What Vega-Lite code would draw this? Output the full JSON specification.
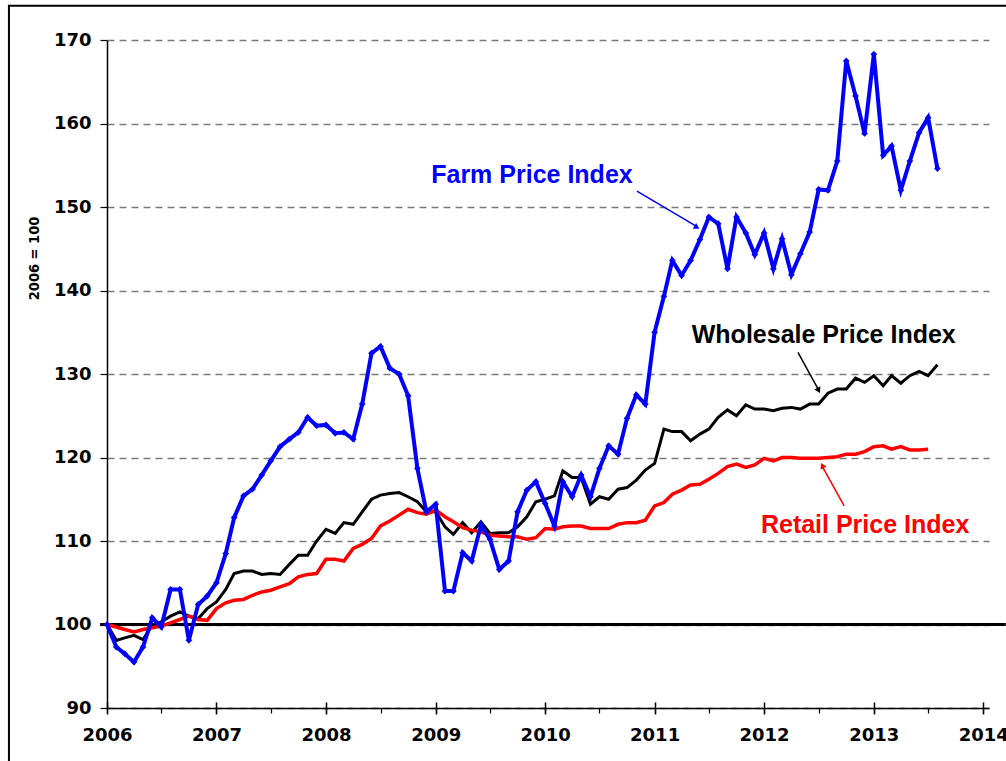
{
  "$schema": "https://vega.github.io/schema/vega-lite/v6.json",
  "width": 882,
  "height": 668,
  "autosize": {"type": "none"},
  "padding": {"left": 107, "top": 40, "right": 17, "bottom": 53},
  "background": "white",
  "config": {
    "view": {"stroke": null},
    "axisY": {
      "tickCount": 8,
      "grid": true, "gridDash": [7, 5], "gridColor": "#7a7a7a", "gridWidth": 1.3,
      "tickSize": 7, "tickColor": "black", "tickWidth": 1.2,
      "domainColor": "black", "domainWidth": 1.5,
      "labelFont": "DejaVu Sans", "labelFontSize": 18, "labelFontWeight": "bold", "labelColor": "black",
      "labelPadding": 9
    }
  },
  "data": {"values": [
    {"date": "2006-01-01", "farm": 100.0, "wholesale": 100.0, "retail": 100.0},
    {"date": "2006-02-01", "farm": 97.3, "wholesale": 98.1, "retail": 99.7},
    {"date": "2006-03-01", "farm": 96.5, "wholesale": 98.4, "retail": 99.4},
    {"date": "2006-04-01", "farm": 95.5, "wholesale": 98.7, "retail": 99.1},
    {"date": "2006-05-01", "farm": 97.3, "wholesale": 98.2, "retail": 99.4},
    {"date": "2006-06-01", "farm": 100.8, "wholesale": 99.9, "retail": 99.6},
    {"date": "2006-07-01", "farm": 99.7, "wholesale": 100.3, "retail": 99.8},
    {"date": "2006-08-01", "farm": 104.2, "wholesale": 101.0, "retail": 100.2},
    {"date": "2006-09-01", "farm": 104.2, "wholesale": 101.5, "retail": 100.6},
    {"date": "2006-10-01", "farm": 98.1, "wholesale": 101.0, "retail": 101.0},
    {"date": "2006-11-01", "farm": 102.4, "wholesale": 100.7, "retail": 100.6},
    {"date": "2006-12-01", "farm": 103.4, "wholesale": 101.9, "retail": 100.5},
    {"date": "2007-01-01", "farm": 105.0, "wholesale": 102.7, "retail": 101.9},
    {"date": "2007-02-01", "farm": 108.5, "wholesale": 104.2, "retail": 102.6},
    {"date": "2007-03-01", "farm": 112.8, "wholesale": 106.1, "retail": 102.9},
    {"date": "2007-04-01", "farm": 115.4, "wholesale": 106.4, "retail": 103.0},
    {"date": "2007-05-01", "farm": 116.2, "wholesale": 106.4, "retail": 103.5},
    {"date": "2007-06-01", "farm": 117.9, "wholesale": 106.0, "retail": 103.9},
    {"date": "2007-07-01", "farm": 119.6, "wholesale": 106.1, "retail": 104.1},
    {"date": "2007-08-01", "farm": 121.3, "wholesale": 106.0, "retail": 104.5},
    {"date": "2007-09-01", "farm": 122.2, "wholesale": 107.2, "retail": 104.9},
    {"date": "2007-10-01", "farm": 123.0, "wholesale": 108.3, "retail": 105.7},
    {"date": "2007-11-01", "farm": 124.8, "wholesale": 108.3, "retail": 106.0},
    {"date": "2007-12-01", "farm": 123.8, "wholesale": 110.0, "retail": 106.1},
    {"date": "2008-01-01", "farm": 123.9, "wholesale": 111.4, "retail": 107.8},
    {"date": "2008-02-01", "farm": 122.9, "wholesale": 110.9, "retail": 107.8},
    {"date": "2008-03-01", "farm": 123.0, "wholesale": 112.2, "retail": 107.6},
    {"date": "2008-04-01", "farm": 122.2, "wholesale": 112.0, "retail": 109.1},
    {"date": "2008-05-01", "farm": 126.4, "wholesale": 113.5, "retail": 109.6},
    {"date": "2008-06-01", "farm": 132.5, "wholesale": 115.0, "retail": 110.3},
    {"date": "2008-07-01", "farm": 133.3, "wholesale": 115.5, "retail": 111.8},
    {"date": "2008-08-01", "farm": 130.7, "wholesale": 115.7, "retail": 112.4},
    {"date": "2008-09-01", "farm": 130.0, "wholesale": 115.8, "retail": 113.1},
    {"date": "2008-10-01", "farm": 127.4, "wholesale": 115.3, "retail": 113.8},
    {"date": "2008-11-01", "farm": 118.7, "wholesale": 114.7, "retail": 113.4},
    {"date": "2008-12-01", "farm": 113.5, "wholesale": 113.5, "retail": 113.2},
    {"date": "2009-01-01", "farm": 114.4, "wholesale": 113.5, "retail": 113.7},
    {"date": "2009-02-01", "farm": 104.0, "wholesale": 111.7, "retail": 112.9},
    {"date": "2009-03-01", "farm": 104.0, "wholesale": 110.8, "retail": 112.3},
    {"date": "2009-04-01", "farm": 108.6, "wholesale": 112.2, "retail": 111.6},
    {"date": "2009-05-01", "farm": 107.6, "wholesale": 111.0, "retail": 111.3},
    {"date": "2009-06-01", "farm": 111.9, "wholesale": 112.3, "retail": 111.1},
    {"date": "2009-07-01", "farm": 110.2, "wholesale": 110.9, "retail": 110.7},
    {"date": "2009-08-01", "farm": 106.6, "wholesale": 111.0, "retail": 110.6},
    {"date": "2009-09-01", "farm": 107.6, "wholesale": 111.0, "retail": 110.5},
    {"date": "2009-10-01", "farm": 113.5, "wholesale": 111.7, "retail": 110.5},
    {"date": "2009-11-01", "farm": 116.1, "wholesale": 112.9, "retail": 110.2},
    {"date": "2009-12-01", "farm": 117.1, "wholesale": 114.7, "retail": 110.4},
    {"date": "2010-01-01", "farm": 114.5, "wholesale": 115.0, "retail": 111.5},
    {"date": "2010-02-01", "farm": 111.8, "wholesale": 115.4, "retail": 111.4},
    {"date": "2010-03-01", "farm": 117.1, "wholesale": 118.4, "retail": 111.7},
    {"date": "2010-04-01", "farm": 115.3, "wholesale": 117.6, "retail": 111.8},
    {"date": "2010-05-01", "farm": 117.9, "wholesale": 117.6, "retail": 111.8},
    {"date": "2010-06-01", "farm": 115.3, "wholesale": 114.4, "retail": 111.5},
    {"date": "2010-07-01", "farm": 118.7, "wholesale": 115.3, "retail": 111.5},
    {"date": "2010-08-01", "farm": 121.4, "wholesale": 115.0, "retail": 111.5},
    {"date": "2010-09-01", "farm": 120.4, "wholesale": 116.2, "retail": 112.0},
    {"date": "2010-10-01", "farm": 124.7, "wholesale": 116.4, "retail": 112.2},
    {"date": "2010-11-01", "farm": 127.5, "wholesale": 117.3, "retail": 112.2},
    {"date": "2010-12-01", "farm": 126.4, "wholesale": 118.5, "retail": 112.5},
    {"date": "2011-01-01", "farm": 135.0, "wholesale": 119.3, "retail": 114.2},
    {"date": "2011-02-01", "farm": 139.3, "wholesale": 123.4, "retail": 114.6},
    {"date": "2011-03-01", "farm": 143.6, "wholesale": 123.1, "retail": 115.6},
    {"date": "2011-04-01", "farm": 141.8, "wholesale": 123.1, "retail": 116.1},
    {"date": "2011-05-01", "farm": 143.6, "wholesale": 122.0, "retail": 116.7},
    {"date": "2011-06-01", "farm": 146.1, "wholesale": 122.8, "retail": 116.8},
    {"date": "2011-07-01", "farm": 148.8, "wholesale": 123.4, "retail": 117.4},
    {"date": "2011-08-01", "farm": 148.0, "wholesale": 124.8, "retail": 118.1},
    {"date": "2011-09-01", "farm": 142.6, "wholesale": 125.7, "retail": 118.9},
    {"date": "2011-10-01", "farm": 148.8, "wholesale": 125.0, "retail": 119.2},
    {"date": "2011-11-01", "farm": 146.9, "wholesale": 126.3, "retail": 118.8},
    {"date": "2011-12-01", "farm": 144.3, "wholesale": 125.8, "retail": 119.1},
    {"date": "2012-01-01", "farm": 146.9, "wholesale": 125.8, "retail": 119.9},
    {"date": "2012-02-01", "farm": 142.6, "wholesale": 125.6, "retail": 119.6},
    {"date": "2012-03-01", "farm": 146.2, "wholesale": 125.9, "retail": 120.0},
    {"date": "2012-04-01", "farm": 141.9, "wholesale": 126.0, "retail": 120.0},
    {"date": "2012-05-01", "farm": 144.4, "wholesale": 125.8, "retail": 119.9},
    {"date": "2012-06-01", "farm": 147.0, "wholesale": 126.4, "retail": 119.9},
    {"date": "2012-07-01", "farm": 152.1, "wholesale": 126.4, "retail": 119.9},
    {"date": "2012-08-01", "farm": 152.0, "wholesale": 127.7, "retail": 120.0},
    {"date": "2012-09-01", "farm": 155.5, "wholesale": 128.2, "retail": 120.1},
    {"date": "2012-10-01", "farm": 167.5, "wholesale": 128.2, "retail": 120.4},
    {"date": "2012-11-01", "farm": 163.3, "wholesale": 129.5, "retail": 120.4},
    {"date": "2012-12-01", "farm": 158.8, "wholesale": 129.0, "retail": 120.7},
    {"date": "2013-01-01", "farm": 168.3, "wholesale": 129.8, "retail": 121.3},
    {"date": "2013-02-01", "farm": 156.2, "wholesale": 128.6, "retail": 121.4},
    {"date": "2013-03-01", "farm": 157.3, "wholesale": 129.8, "retail": 121.0},
    {"date": "2013-04-01", "farm": 152.0, "wholesale": 128.9, "retail": 121.3},
    {"date": "2013-05-01", "farm": 155.5, "wholesale": 129.8, "retail": 120.9},
    {"date": "2013-06-01", "farm": 158.9, "wholesale": 130.3, "retail": 120.9},
    {"date": "2013-07-01", "farm": 160.7, "wholesale": 129.8, "retail": 121.0},
    {"date": "2013-08-01", "farm": 154.6, "wholesale": 131.1}
  ]},
  "resolve": {"axis": {"x": "independent"}},
  "layer": [
    {
      "data": {"values": [{}]},
      "mark": {"type": "rect", "filled": false, "color": "black", "strokeWidth": 2, "clip": false},
      "encoding": {
        "x": {"datum": {"year": 2005, "month": 2, "date": 8, "utc": true}, "type": "temporal", "scale": {"type": "utc", "domain": [{"year": 2006, "month": 1, "date": 1, "utc": true}, {"year": 2014, "month": 1, "date": 20, "utc": true}]}, "axis": null},
        "x2": {"datum": {"year": 2015, "month": 6, "date": 1, "utc": true}},
        "y": {"datum": 174.1, "type": "quantitative", "scale": {"domain": [90, 170], "zero": false}, "axis": {"title": "2006 = 100", "titleFont": "Liberation Sans Narrow, DejaVu Sans Condensed, sans-serif", "titleFontSize": 14.5, "titleFontWeight": "bold", "titleColor": "black", "titleX": -66, "titleY": 218, "titleAlign": "center", "titleBaseline": "bottom", "titleAngle": 270}},
        "y2": {"datum": 80}
      }
    },
    {
      "data": {"values": [{}]},
      "mark": {"type": "rule", "color": "black", "strokeWidth": 3, "clip": false},
      "encoding": {
        "x": {"datum": {"year": 2005, "month": 12, "date": 9, "utc": true}, "type": "temporal", "scale": {"type": "utc", "domain": [{"year": 2006, "month": 1, "date": 1, "utc": true}, {"year": 2014, "month": 1, "date": 20, "utc": true}]}, "axis": null},
        "x2": {"datum": {"year": 2014, "month": 3, "date": 17, "utc": true}},
        "y": {"datum": 100, "type": "quantitative", "scale": {"domain": [90, 170], "zero": false}, "axis": {"title": "2006 = 100", "titleFont": "Liberation Sans Narrow, DejaVu Sans Condensed, sans-serif", "titleFontSize": 14.5, "titleFontWeight": "bold", "titleColor": "black", "titleX": -66, "titleY": 218, "titleAlign": "center", "titleBaseline": "bottom", "titleAngle": 270}}
      }
    },
    {
      "mark": {"type": "line", "color": "black", "strokeWidth": 3},
      "encoding": {
        "x": {
          "field": "date", "type": "temporal",
          "scale": {"type": "utc", "domain": [{"year": 2006, "month": 1, "date": 1, "utc": true}, {"year": 2014, "month": 1, "date": 20, "utc": true}]},
          "axis": {
            "orient": "bottom",
            "title": null, "tickCount": {"interval": "year", "step": 1}, "format": "%Y",
            "grid": false, "tickSize": 6, "tickColor": "black", "tickWidth": 1.5,
            "domainColor": "black", "domainWidth": 1.5,
            "labelFont": "DejaVu Sans", "labelFontSize": 18, "labelFontWeight": "bold", "labelColor": "black",
            "labelPadding": 12, "labelFlush": false, "labelOverlap": false
          }
        },
        "y": {"field": "wholesale", "type": "quantitative", "scale": {"domain": [90, 170], "zero": false}, "axis": {"title": "2006 = 100", "titleFont": "Liberation Sans Narrow, DejaVu Sans Condensed, sans-serif", "titleFontSize": 14.5, "titleFontWeight": "bold", "titleColor": "black", "titleX": -66, "titleY": 218, "titleAlign": "center", "titleBaseline": "bottom", "titleAngle": 270}}
      }
    },
    {
      "mark": {"type": "line", "color": "#FF0000", "strokeWidth": 3.5},
      "encoding": {
        "x": {
          "field": "date", "type": "temporal",
          "scale": {"type": "utc", "domain": [{"year": 2006, "month": 1, "date": 1, "utc": true}, {"year": 2014, "month": 1, "date": 20, "utc": true}]},
          "axis": {"orient": "bottom", "title": null, "tickCount": {"interval": "year", "step": 1}, "labels": false, "domain": false, "grid": false, "tickSize": -6, "tickColor": "black", "tickWidth": 1.5}
        },
        "y": {"field": "retail", "type": "quantitative", "scale": {"domain": [90, 170], "zero": false}, "axis": {"title": "2006 = 100", "titleFont": "Liberation Sans Narrow, DejaVu Sans Condensed, sans-serif", "titleFontSize": 14.5, "titleFontWeight": "bold", "titleColor": "black", "titleX": -66, "titleY": 218, "titleAlign": "center", "titleBaseline": "bottom", "titleAngle": 270}}
      }
    },
    {
      "mark": {"type": "line", "color": "#0000FF", "strokeWidth": 4, "point": {"shape": "diamond", "size": 45, "filled": true, "color": "#0000FF"}},
      "encoding": {
        "x": {
          "field": "date", "type": "temporal",
          "scale": {"type": "utc", "domain": [{"year": 2006, "month": 1, "date": 1, "utc": true}, {"year": 2014, "month": 1, "date": 20, "utc": true}]},
          "axis": {"orient": "bottom", "title": null, "tickCount": {"interval": "month", "step": 6}, "labels": false, "domain": false, "grid": false, "tickSize": 5, "tickColor": "black", "tickWidth": 1.2}
        },
        "y": {"field": "farm", "type": "quantitative", "scale": {"domain": [90, 170], "zero": false}, "axis": {"title": "2006 = 100", "titleFont": "Liberation Sans Narrow, DejaVu Sans Condensed, sans-serif", "titleFontSize": 14.5, "titleFontWeight": "bold", "titleColor": "black", "titleX": -66, "titleY": 218, "titleAlign": "center", "titleBaseline": "bottom", "titleAngle": 270}}
      }
    },
    {
      "data": {"values": [{}]},
      "mark": {"type": "text", "text": "Farm Price Index", "font": "Liberation Sans", "fontSize": 25, "fontWeight": "bold", "color": "#0000FF", "align": "center", "baseline": "middle"},
      "encoding": {
        "x": {"datum": {"year": 2009, "month": 11, "date": 18, "utc": true}, "type": "temporal", "scale": {"type": "utc", "domain": [{"year": 2006, "month": 1, "date": 1, "utc": true}, {"year": 2014, "month": 1, "date": 20, "utc": true}]}, "axis": null},
        "y": {"datum": 153.8, "type": "quantitative", "scale": {"domain": [90, 170], "zero": false}, "axis": {"title": "2006 = 100", "titleFont": "Liberation Sans Narrow, DejaVu Sans Condensed, sans-serif", "titleFontSize": 14.5, "titleFontWeight": "bold", "titleColor": "black", "titleX": -66, "titleY": 218, "titleAlign": "center", "titleBaseline": "bottom", "titleAngle": 270}}
      }
    },
    {
      "data": {"values": [{}]},
      "mark": {"type": "text", "text": "Wholesale Price Index", "font": "Liberation Sans", "fontSize": 25, "fontWeight": "bold", "color": "black", "align": "center", "baseline": "middle"},
      "encoding": {
        "x": {"datum": {"year": 2012, "month": 7, "date": 18, "utc": true}, "type": "temporal", "scale": {"type": "utc", "domain": [{"year": 2006, "month": 1, "date": 1, "utc": true}, {"year": 2014, "month": 1, "date": 20, "utc": true}]}, "axis": null},
        "y": {"datum": 134.7, "type": "quantitative", "scale": {"domain": [90, 170], "zero": false}, "axis": {"title": "2006 = 100", "titleFont": "Liberation Sans Narrow, DejaVu Sans Condensed, sans-serif", "titleFontSize": 14.5, "titleFontWeight": "bold", "titleColor": "black", "titleX": -66, "titleY": 218, "titleAlign": "center", "titleBaseline": "bottom", "titleAngle": 270}}
      }
    },
    {
      "data": {"values": [{}]},
      "mark": {"type": "text", "text": "Retail Price Index", "font": "Liberation Sans", "fontSize": 25, "fontWeight": "bold", "color": "#FF0000", "align": "center", "baseline": "middle"},
      "encoding": {
        "x": {"datum": {"year": 2012, "month": 12, "date": 3, "utc": true}, "type": "temporal", "scale": {"type": "utc", "domain": [{"year": 2006, "month": 1, "date": 1, "utc": true}, {"year": 2014, "month": 1, "date": 20, "utc": true}]}, "axis": null},
        "y": {"datum": 111.9, "type": "quantitative", "scale": {"domain": [90, 170], "zero": false}, "axis": {"title": "2006 = 100", "titleFont": "Liberation Sans Narrow, DejaVu Sans Condensed, sans-serif", "titleFontSize": 14.5, "titleFontWeight": "bold", "titleColor": "black", "titleX": -66, "titleY": 218, "titleAlign": "center", "titleBaseline": "bottom", "titleAngle": 270}}
      }
    },
    {
      "data": {"values": [{}]},
      "mark": {"type": "rule", "color": "#0000FF", "strokeWidth": 1.5},
      "encoding": {
        "x": {"datum": {"year": 2010, "month": 11, "date": 3, "utc": true}, "type": "temporal", "scale": {"type": "utc", "domain": [{"year": 2006, "month": 1, "date": 1, "utc": true}, {"year": 2014, "month": 1, "date": 20, "utc": true}]}, "axis": null},
        "y": {"datum": 151.9, "type": "quantitative", "scale": {"domain": [90, 170], "zero": false}, "axis": {"title": "2006 = 100", "titleFont": "Liberation Sans Narrow, DejaVu Sans Condensed, sans-serif", "titleFontSize": 14.5, "titleFontWeight": "bold", "titleColor": "black", "titleX": -66, "titleY": 218, "titleAlign": "center", "titleBaseline": "bottom", "titleAngle": 270}},
        "x2": {"datum": {"year": 2011, "month": 5, "date": 25, "utc": true}},
        "y2": {"datum": 147.6}
      }
    },
    {
      "data": {"values": [{}]},
      "mark": {"type": "point", "shape": "triangle-up", "size": 45, "filled": true, "color": "#0000FF", "angle": 121, "opacity": 1},
      "encoding": {
        "x": {"datum": {"year": 2011, "month": 5, "date": 22, "utc": true}, "type": "temporal", "scale": {"type": "utc", "domain": [{"year": 2006, "month": 1, "date": 1, "utc": true}, {"year": 2014, "month": 1, "date": 20, "utc": true}]}, "axis": null},
        "y": {"datum": 147.56, "type": "quantitative", "scale": {"domain": [90, 170], "zero": false}, "axis": {"title": "2006 = 100", "titleFont": "Liberation Sans Narrow, DejaVu Sans Condensed, sans-serif", "titleFontSize": 14.5, "titleFontWeight": "bold", "titleColor": "black", "titleX": -66, "titleY": 218, "titleAlign": "center", "titleBaseline": "bottom", "titleAngle": 270}}
      }
    },
    {
      "data": {"values": [{}]},
      "mark": {"type": "rule", "color": "black", "strokeWidth": 1.5},
      "encoding": {
        "x": {"datum": {"year": 2012, "month": 4, "date": 23, "utc": true}, "type": "temporal", "scale": {"type": "utc", "domain": [{"year": 2006, "month": 1, "date": 1, "utc": true}, {"year": 2014, "month": 1, "date": 20, "utc": true}]}, "axis": null},
        "y": {"datum": 132.6, "type": "quantitative", "scale": {"domain": [90, 170], "zero": false}, "axis": {"title": "2006 = 100", "titleFont": "Liberation Sans Narrow, DejaVu Sans Condensed, sans-serif", "titleFontSize": 14.5, "titleFontWeight": "bold", "titleColor": "black", "titleX": -66, "titleY": 218, "titleAlign": "center", "titleBaseline": "bottom", "titleAngle": 270}},
        "x2": {"datum": {"year": 2012, "month": 7, "date": 2, "utc": true}},
        "y2": {"datum": 128.0}
      }
    },
    {
      "data": {"values": [{}]},
      "mark": {"type": "point", "shape": "triangle-up", "size": 45, "filled": true, "color": "black", "angle": 152, "opacity": 1},
      "encoding": {
        "x": {"datum": {"year": 2012, "month": 7, "date": 1, "utc": true}, "type": "temporal", "scale": {"type": "utc", "domain": [{"year": 2006, "month": 1, "date": 1, "utc": true}, {"year": 2014, "month": 1, "date": 20, "utc": true}]}, "axis": null},
        "y": {"datum": 128.04, "type": "quantitative", "scale": {"domain": [90, 170], "zero": false}, "axis": {"title": "2006 = 100", "titleFont": "Liberation Sans Narrow, DejaVu Sans Condensed, sans-serif", "titleFontSize": 14.5, "titleFontWeight": "bold", "titleColor": "black", "titleX": -66, "titleY": 218, "titleAlign": "center", "titleBaseline": "bottom", "titleAngle": 270}}
      }
    },
    {
      "data": {"values": [{}]},
      "mark": {"type": "rule", "color": "#FF0000", "strokeWidth": 1.5},
      "encoding": {
        "x": {"datum": {"year": 2012, "month": 9, "date": 24, "utc": true}, "type": "temporal", "scale": {"type": "utc", "domain": [{"year": 2006, "month": 1, "date": 1, "utc": true}, {"year": 2014, "month": 1, "date": 20, "utc": true}]}, "axis": null},
        "y": {"datum": 114.2, "type": "quantitative", "scale": {"domain": [90, 170], "zero": false}, "axis": {"title": "2006 = 100", "titleFont": "Liberation Sans Narrow, DejaVu Sans Condensed, sans-serif", "titleFontSize": 14.5, "titleFontWeight": "bold", "titleColor": "black", "titleX": -66, "titleY": 218, "titleAlign": "center", "titleBaseline": "bottom", "titleAngle": 270}},
        "x2": {"datum": {"year": 2012, "month": 7, "date": 12, "utc": true}},
        "y2": {"datum": 119.0}
      }
    },
    {
      "data": {"values": [{}]},
      "mark": {"type": "point", "shape": "triangle-up", "size": 45, "filled": true, "color": "#FF0000", "angle": -28, "opacity": 1},
      "encoding": {
        "x": {"datum": {"year": 2012, "month": 7, "date": 13, "utc": true}, "type": "temporal", "scale": {"type": "utc", "domain": [{"year": 2006, "month": 1, "date": 1, "utc": true}, {"year": 2014, "month": 1, "date": 20, "utc": true}]}, "axis": null},
        "y": {"datum": 119.03, "type": "quantitative", "scale": {"domain": [90, 170], "zero": false}, "axis": {"title": "2006 = 100", "titleFont": "Liberation Sans Narrow, DejaVu Sans Condensed, sans-serif", "titleFontSize": 14.5, "titleFontWeight": "bold", "titleColor": "black", "titleX": -66, "titleY": 218, "titleAlign": "center", "titleBaseline": "bottom", "titleAngle": 270}}
      }
    }
  ]
}
